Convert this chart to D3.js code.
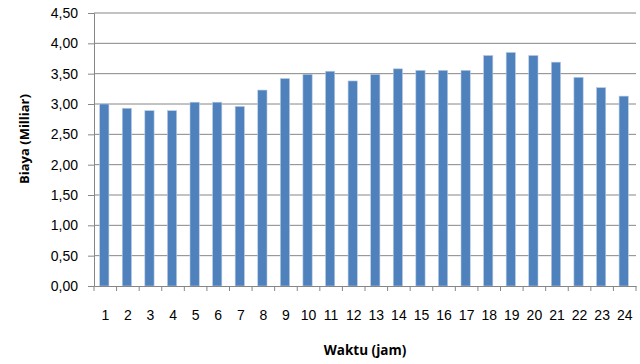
<!DOCTYPE html>
<html lang="id">
<head>
<meta charset="UTF-8">
<title>Biaya per Jam</title>
<script src="https://cdnjs.cloudflare.com/ajax/libs/d3/7.8.5/d3.min.js"></script>
<style>
    body { margin: 0; background: #fff; }
    svg { display: block; font-family: "Open Sans", "Noto Sans", sans-serif; }
    .tick text { fill: #000; }
</style>
</head>
<body>
<svg width="640" height="364"></svg>
<script>
    // jam 1..24
    const hours = d3.range(1, 25).map(String);
    // biaya (milliar)
    const costs = [3.00, 2.93, 2.89, 2.89, 3.03, 3.03, 2.96, 3.23, 3.42, 3.49, 3.54, 3.38,
                   3.49, 3.58, 3.555, 3.555, 3.555, 3.80, 3.85, 3.80, 3.69, 3.44, 3.27, 3.13];
    const yTicks = [0, 0.5, 1, 1.5, 2, 2.5, 3, 3.5, 4, 4.5];

    const margin = {top: 13, right: 4, bottom: 78, left: 94};
    const svg = d3.select("svg");
    const width = 640 - margin.left - margin.right;
    const height = 364 - margin.top - margin.bottom;
    const g = svg.append("g").attr("transform", `translate(${margin.left},${margin.top})`);

    const x = d3.scaleBand().domain(hours).range([0, width]).paddingInner(0.59).paddingOuter(0.295);
    const y = d3.scaleLinear().domain([0, 4.5]).range([height, 0]);
    const fmt = d => d.toFixed(2).replace(".", ",");

    // gridlines
    g.selectAll(".grid").data(yTicks.slice(1)).enter().append("line")
        .attr("x1", 0).attr("x2", width)
        .attr("y1", d => y(d)).attr("y2", d => y(d))
        .attr("stroke", "#868686").attr("stroke-width", 1);

    // bars
    g.selectAll(".bar").data(costs).enter().append("rect")
        .attr("x", (d, i) => x(hours[i]) - 1)
        .attr("y", d => y(d))
        .attr("width", x.bandwidth())
        .attr("height", d => height - y(d))
        .attr("fill", "#4F81BD")
        .attr("stroke", "#b9cde5").attr("stroke-width", 0.6);

    // y axis
    const yAxis = g.append("g")
        .call(d3.axisLeft(y).tickValues(yTicks).tickFormat(fmt).tickSize(6).tickPadding(10));
    yAxis.select(".domain").attr("stroke", "#868686");
    yAxis.selectAll(".tick line").attr("stroke", "#868686");
    yAxis.selectAll("text").attr("font-size", 14);

    // x axis with ticks at band boundaries
    const xAxis = g.append("g").attr("transform", `translate(0,${height})`)
        .call(d3.axisBottom(x).tickSize(0).tickPadding(24));
    xAxis.select(".domain").attr("stroke", "#868686");
    xAxis.selectAll("text").attr("font-size", 14);
    xAxis.selectAll(".sep").data(d3.range(0, 25)).enter().append("line")
        .attr("x1", i => i * width / 24).attr("x2", i => i * width / 24)
        .attr("y1", 0).attr("y2", 5)
        .attr("stroke", "#868686");

    // axis titles
    svg.append("text")
        .attr("x", margin.left + width / 2).attr("y", 355)
        .attr("text-anchor", "middle").attr("font-weight", "bold").attr("font-size", 13.5)
        .text("Waktu (jam)");
    svg.append("text")
        .attr("transform", `translate(29,139) rotate(-90)`)
        .attr("text-anchor", "middle").attr("font-weight", "bold").attr("font-size", 13)
        .text("Biaya (Milliar)");
</script>
</body>
</html>
